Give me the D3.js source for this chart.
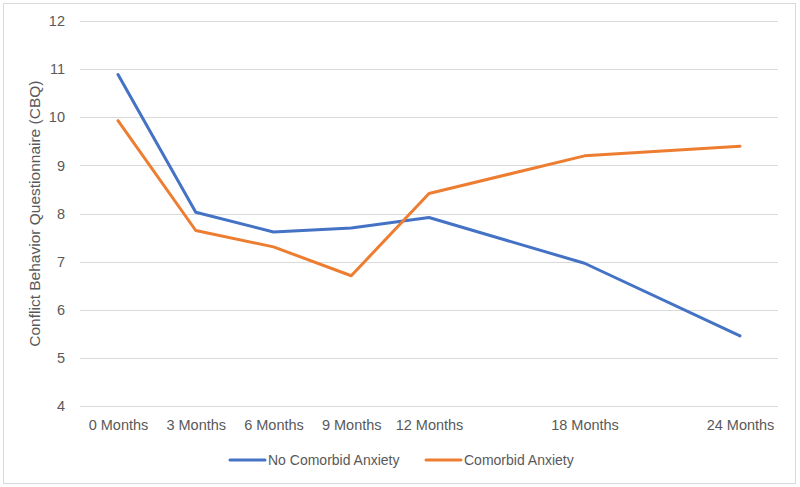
<!DOCTYPE html>
<html>
<head>
<meta charset="utf-8">
<script src="https://cdn.jsdelivr.net/npm/d3@7"></script>
<style>
  html, body { margin: 0; padding: 0; background: #fff; }
  svg { display: block; }
  text { font-family: "Liberation Sans", Arial, sans-serif; fill: #595959; }
</style>
</head>
<body>
<svg id="chart" width="800" height="487"></svg>
<script>
const months = [0, 3, 6, 9, 12, 18, 24];
const tickLabels = ["0 Months", "3 Months", "6 Months", "9 Months", "12 Months", "18 Months", "24 Months"];
const noComorbid = [10.89, 8.03, 7.62, 7.70, 7.92, 6.97, 5.46];
const comorbid = [9.93, 7.65, 7.31, 6.71, 8.42, 9.20, 9.40];
const seriesNames = ["No Comorbid Anxiety", "Comorbid Anxiety"];
const yTicks = [4, 5, 6, 7, 8, 9, 10, 11, 12];

const colors = ["#4472C4", "#ED7D31"];
const svg = d3.select("#chart");

// outer border
svg.append("rect").attr("x", 3.5).attr("y", 3.5).attr("width", 792).attr("height", 480)
  .attr("fill", "#fff").attr("stroke", "#d9d9d9").attr("stroke-width", 1);

const plotLeft = 80, plotRight = 778;
const x = d3.scaleLinear().domain([0, 24]).range([118, 740]);
const y = d3.scaleLinear().domain([4, 12]).range([406.3, 21]);

// gridlines
const yAxis = d3.axisLeft(y).tickValues(yTicks).tickSize(-(plotRight - plotLeft)).tickPadding(15).tickFormat(d3.format("d"));
const gy = svg.append("g").attr("transform", `translate(${plotLeft},0)`).call(yAxis);
gy.select(".domain").remove();
gy.selectAll(".tick line").attr("stroke", "#d9d9d9").attr("stroke-width", 1).attr("shape-rendering", "crispEdges");
gy.selectAll(".tick text").attr("font-size", 14.5).attr("fill", "#595959").attr("font-family", "Liberation Sans, Arial, sans-serif");

// x axis labels
const xAxis = d3.axisBottom(x).tickValues(months).tickSize(0).tickPadding(13)
  .tickFormat((d, i) => tickLabels[i]);
const gx = svg.append("g").attr("transform", `translate(0,${y(4)})`).call(xAxis);
gx.select(".domain").remove();
gx.selectAll(".tick text").attr("font-size", 14.5).attr("fill", "#595959").attr("font-family", "Liberation Sans, Arial, sans-serif");

// y axis title
svg.append("text")
  .attr("transform", `translate(40,${(y(4) + y(12)) / 2}) rotate(-90)`)
  .attr("text-anchor", "middle")
  .attr("font-size", 15.5)
  .text("Conflict Behavior Questionnaire (CBQ)");

// lines
const line = d3.line().x((d, i) => x(months[i])).y(d => y(d));
[noComorbid, comorbid].forEach((s, k) => {
  svg.append("path").datum(s)
    .attr("d", line)
    .attr("fill", "none")
    .attr("stroke", colors[k])
    .attr("stroke-width", 3)
    .attr("stroke-linejoin", "round")
    .attr("stroke-linecap", "round");
});

// legend
const legendItems = [{x: 230, name: seriesNames[0], c: colors[0]}, {x: 426, name: seriesNames[1], c: colors[1]}];
legendItems.forEach(it => {
  svg.append("line").attr("x1", it.x).attr("x2", it.x + 35).attr("y1", 460).attr("y2", 460)
    .attr("stroke", it.c).attr("stroke-width", 3).attr("stroke-linecap", "round");
  svg.append("text").attr("x", it.x + 38).attr("y", 465).attr("font-size", 14).text(it.name);
});
</script>
</body>
</html>
